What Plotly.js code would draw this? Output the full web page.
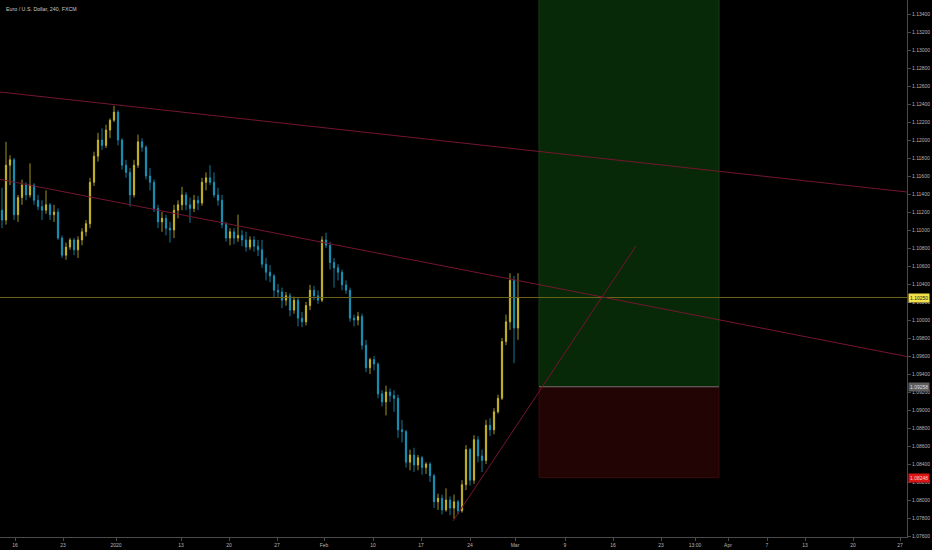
<!DOCTYPE html>
<html>
<head>
<meta charset="utf-8">
<script src="https://cdn.plot.ly/plotly-3.0.1.min.js"></script>
<style>
html,body{margin:0;padding:0;background:#000;}
#chart{width:932px;height:550px;}
</style>
</head>
<body>
<div id="chart"></div>
<script>
const openP = [1.1122,1.1111,1.1172,1.1178,1.1117,1.1136,1.1150,1.1139,1.1150,1.1133,
1.1126,1.1122,1.1128,1.1117,1.1120,1.1091,1.1072,1.1081,1.1089,1.1078,
1.1089,1.1098,1.1107,1.1153,1.1182,1.1200,1.1194,1.1211,1.1222,1.1231,
1.1200,1.1172,1.1164,1.1139,1.1172,1.1198,1.1192,1.1160,1.1153,1.1124,
1.1109,1.1113,1.1102,1.1100,1.1122,1.1128,1.1139,1.1128,1.1124,1.1133,
1.1130,1.1153,1.1158,1.1153,1.1139,1.1133,1.1106,1.1091,1.1098,1.1091,
1.1094,1.1089,1.1081,1.1089,1.1082,1.1078,1.1062,1.1053,1.1049,1.1033,
1.1031,1.1022,1.1027,1.1011,1.1022,1.1002,1.0998,1.1016,1.1033,1.1027,
1.1022,1.1089,1.1083,1.1064,1.1058,1.1053,1.1039,1.1033,1.1002,1.1000,
1.1004,1.0972,1.0947,1.0956,1.0951,1.0918,1.0909,1.0920,1.0916,1.0913,
1.0878,1.0876,1.0842,1.0850,1.0839,1.0847,1.0836,1.0840,1.0827,1.0798,
1.0802,1.0789,1.0800,1.0791,1.0798,1.0788,1.0817,1.0856,1.0822,1.0867,
1.0849,1.0844,1.0883,1.0878,1.0898,1.0913,1.0976,1.0998,1.1044,1.0991];
const highP = [1.1147,1.1198,1.1183,1.1180,1.1139,1.1156,1.1153,1.1174,1.1152,1.1139,
1.1133,1.1144,1.1130,1.1128,1.1124,1.1094,1.1086,1.1091,1.1091,1.1093,
1.1102,1.1111,1.1158,1.1187,1.1208,1.1213,1.1217,1.1224,1.1238,1.1233,
1.1202,1.1178,1.1169,1.1178,1.1206,1.1202,1.1194,1.1169,1.1156,1.1128,
1.1120,1.1117,1.1109,1.1128,1.1133,1.1148,1.1142,1.1136,1.1139,1.1138,
1.1158,1.1164,1.1172,1.1164,1.1147,1.1139,1.1109,1.1102,1.1102,1.1117,
1.1100,1.1098,1.1093,1.1093,1.1089,1.1089,1.1069,1.1061,1.1051,1.1040,
1.1036,1.1031,1.1030,1.1026,1.1025,1.1009,1.1020,1.1039,1.1038,1.1033,
1.1093,1.1097,1.1087,1.1069,1.1062,1.1056,1.1044,1.1036,1.1006,1.1009,
1.1007,1.0978,1.0958,1.0960,1.0953,1.0922,1.0927,1.0924,1.0922,1.0917,
1.0889,1.0878,1.0856,1.0858,1.0850,1.0849,1.0842,1.0842,1.0829,1.0807,
1.0806,1.0813,1.0804,1.0806,1.0800,1.0822,1.0861,1.0858,1.0872,1.0871,
1.0856,1.0889,1.0891,1.0902,1.0917,1.0980,1.1006,1.1052,1.1049,1.1052];
const lowP = [1.1102,1.1106,1.1150,1.1111,1.1109,1.1128,1.1133,1.1136,1.1128,1.1122,
1.1111,1.1118,1.1111,1.1109,1.1089,1.1069,1.1067,1.1078,1.1072,1.1069,
1.1083,1.1093,1.1102,1.1149,1.1176,1.1189,1.1191,1.1202,1.1220,1.1194,
1.1167,1.1158,1.1126,1.1136,1.1169,1.1187,1.1156,1.1144,1.1120,1.1102,
1.1098,1.1094,1.1086,1.1091,1.1113,1.1122,1.1122,1.1108,1.1120,1.1122,
1.1127,1.1144,1.1150,1.1136,1.1127,1.1102,1.1087,1.1083,1.1084,1.1087,
1.1082,1.1076,1.1078,1.1076,1.1071,1.1058,1.1044,1.1042,1.1025,1.1025,
1.1013,1.1016,1.1004,1.1007,1.0993,1.0992,1.0994,1.1011,1.1022,1.1018,
1.1020,1.1080,1.1056,1.1036,1.1044,1.1033,1.1029,1.0998,1.0993,1.0994,
1.0967,1.0942,1.0940,1.0944,1.0913,1.0904,1.0894,1.0909,1.0898,1.0869,
1.0864,1.0836,1.0833,1.0831,1.0833,1.0828,1.0829,1.0820,1.0791,1.0789,
1.0784,1.0787,1.0783,1.0779,1.0784,1.0786,1.0811,1.0816,1.0818,1.0842,
1.0831,1.0840,1.0871,1.0873,1.0896,1.0911,1.0972,1.0989,1.0952,1.0978];
const closeP = [1.1111,1.1172,1.1178,1.1117,1.1136,1.1150,1.1139,1.1150,1.1133,1.1126,
1.1122,1.1128,1.1117,1.1120,1.1091,1.1072,1.1081,1.1089,1.1078,1.1089,
1.1098,1.1107,1.1153,1.1182,1.1200,1.1194,1.1211,1.1222,1.1231,1.1200,
1.1172,1.1164,1.1139,1.1172,1.1198,1.1192,1.1160,1.1153,1.1124,1.1109,
1.1113,1.1102,1.1100,1.1122,1.1128,1.1139,1.1128,1.1124,1.1133,1.1130,
1.1153,1.1158,1.1153,1.1139,1.1133,1.1106,1.1091,1.1098,1.1091,1.1094,
1.1089,1.1081,1.1089,1.1082,1.1078,1.1062,1.1053,1.1049,1.1033,1.1031,
1.1022,1.1027,1.1011,1.1022,1.1002,1.0998,1.1016,1.1033,1.1027,1.1022,
1.1089,1.1083,1.1064,1.1058,1.1053,1.1039,1.1033,1.1002,1.1000,1.1004,
1.0972,1.0947,1.0956,1.0951,1.0918,1.0909,1.0920,1.0916,1.0913,1.0878,
1.0876,1.0842,1.0850,1.0839,1.0847,1.0836,1.0840,1.0827,1.0798,1.0802,
1.0789,1.0800,1.0791,1.0798,1.0788,1.0817,1.0856,1.0822,1.0867,1.0849,
1.0844,1.0883,1.0878,1.0898,1.0913,1.0976,1.0998,1.1044,1.0991,1.1025];

// x-axis ticks (position in candle units) and labels
const tickPos  = [3.25,15.25,28.5,44.75,56.75,68.75,80.5,92.75,104.75,117,128.25,140.75,152.75,164.75,173.25,181.5,191.25,200.75,212.75,224.5];
const tickText = ['16','23','2020','13','20','27','Feb','10','17','24','Mar','9','16','23','13:00','Apr','7','13','20','27'];

// drawing levels
const currentPrice = 1.10250;
const entryPrice = 1.09258;
const stopPrice = 1.08248;
const targetPrice = 1.14000;
const boxStart = 134.25, boxEnd = 179.25;
const trendUpper = [[-0.5, 1.12533], [226.25, 1.11422]];
const trendMiddle = [[-0.5, 1.11563], [226.25, 1.09594]];
const trendRising = [[112.75, 1.07767], [158.5, 1.10822]];

const xIdx = closeP.map((_, i) => i);

const trace = {
  type: 'candlestick',
  x: xIdx, open: openP, high: highP, low: lowP, close: closeP,
  increasing: {line: {color: '#cdbb2a', width: 0.8}, fillcolor: '#f2e03a'},
  decreasing: {line: {color: '#1b98bc', width: 0.8}, fillcolor: '#27b6de'},
  whiskerwidth: 0,
  hoverinfo: 'skip',
  showlegend: false
};

const red = '#74162f';
const shapes = [
  {type:'rect', xref:'x', yref:'y', x0:boxStart, x1:boxEnd, y0:entryPrice, y1:targetPrice,
   fillcolor:'#072907', line:{color:'#123f16', width:1}, layer:'below'},
  {type:'rect', xref:'x', yref:'y', x0:boxStart, x1:boxEnd, y0:stopPrice, y1:entryPrice,
   fillcolor:'#220404', line:{color:'#380b0b', width:1}, layer:'below'},
  {type:'line', xref:'x', yref:'y', x0:boxStart, x1:boxEnd, y0:entryPrice, y1:entryPrice,
   line:{color:'#6d6d6d', width:1}},
  {type:'line', xref:'paper', yref:'y', x0:0, x1:1, y0:currentPrice, y1:currentPrice,
   line:{color:'#6b6219', width:1}},
  {type:'line', xref:'x', yref:'y', x0:trendUpper[0][0], y0:trendUpper[0][1], x1:trendUpper[1][0], y1:trendUpper[1][1],
   line:{color:red, width:1}},
  {type:'line', xref:'x', yref:'y', x0:trendMiddle[0][0], y0:trendMiddle[0][1], x1:trendMiddle[1][0], y1:trendMiddle[1][1],
   line:{color:red, width:1}},
  {type:'line', xref:'x', yref:'y', x0:trendRising[0][0], y0:trendRising[0][1], x1:trendRising[1][0], y1:trendRising[1][1],
   line:{color:red, width:1}}
];

const lblFont = {family:'Liberation Sans, Arial, sans-serif', size:5};
const annotations = [
  {xref:'paper', yref:'paper', x:0.004, y:0.993, xanchor:'left', yanchor:'top', showarrow:false,
   text:'Euro / U.S. Dollar, 240, FXCM', font:{family:'Liberation Sans, Arial, sans-serif', size:5.3, color:'#c9c9c9'}},
  {xref:'paper', yref:'y', x:1, y:currentPrice, xanchor:'left', yanchor:'middle', xshift:1, showarrow:false,
   text:currentPrice.toFixed(5), bgcolor:'#f3e24a', borderpad:1, font:Object.assign({}, lblFont, {color:'#222'})},
  {xref:'paper', yref:'y', x:1, y:entryPrice, xanchor:'left', yanchor:'middle', xshift:1, showarrow:false,
   text:entryPrice.toFixed(5), bgcolor:'#5e5e5e', borderpad:1, font:Object.assign({}, lblFont, {color:'#dddddd'})},
  {xref:'paper', yref:'y', x:1, y:stopPrice, xanchor:'left', yanchor:'middle', xshift:1, showarrow:false,
   text:stopPrice.toFixed(5), bgcolor:'#dc1414', borderpad:1, font:Object.assign({}, lblFont, {color:'#ffd6d6'})}
];

const layout = {
  width: 932, height: 550,
  margin: {l:0, r:25, t:0, b:13, pad:0},
  paper_bgcolor: '#000000',
  plot_bgcolor: '#000000',
  showlegend: false,
  hovermode: false,
  boxgap: 0.55,
  xaxis: {
    type:'linear', range:[-0.5, 226.25], rangeslider:{visible:false},
    tickmode:'array', tickvals:tickPos, ticktext:tickText,
    showgrid:false, zeroline:false, showline:true, linecolor:'#4a4a4a', linewidth:1,
    ticks:'outside', ticklen:3, tickcolor:'#4a4a4a',
    tickfont:{family:'Liberation Sans, Arial, sans-serif', size:5, color:'#b5b5b5'},
    fixedrange:true
  },
  yaxis: {
    side:'right', range:[1.075889, 1.135556],
    tickmode:'linear', tick0:1.076, dtick:0.002, tickformat:'.5f',
    showgrid:false, zeroline:false, showline:true, linecolor:'#4a4a4a', linewidth:1,
    ticks:'outside', ticklen:3, tickcolor:'#4a4a4a',
    tickfont:{family:'Liberation Sans, Arial, sans-serif', size:5, color:'#b5b5b5'},
    fixedrange:true
  },
  shapes: shapes,
  annotations: annotations
};

Plotly.newPlot('chart', [trace], layout, {staticPlot:true, displayModeBar:false});
</script>
</body>
</html>
